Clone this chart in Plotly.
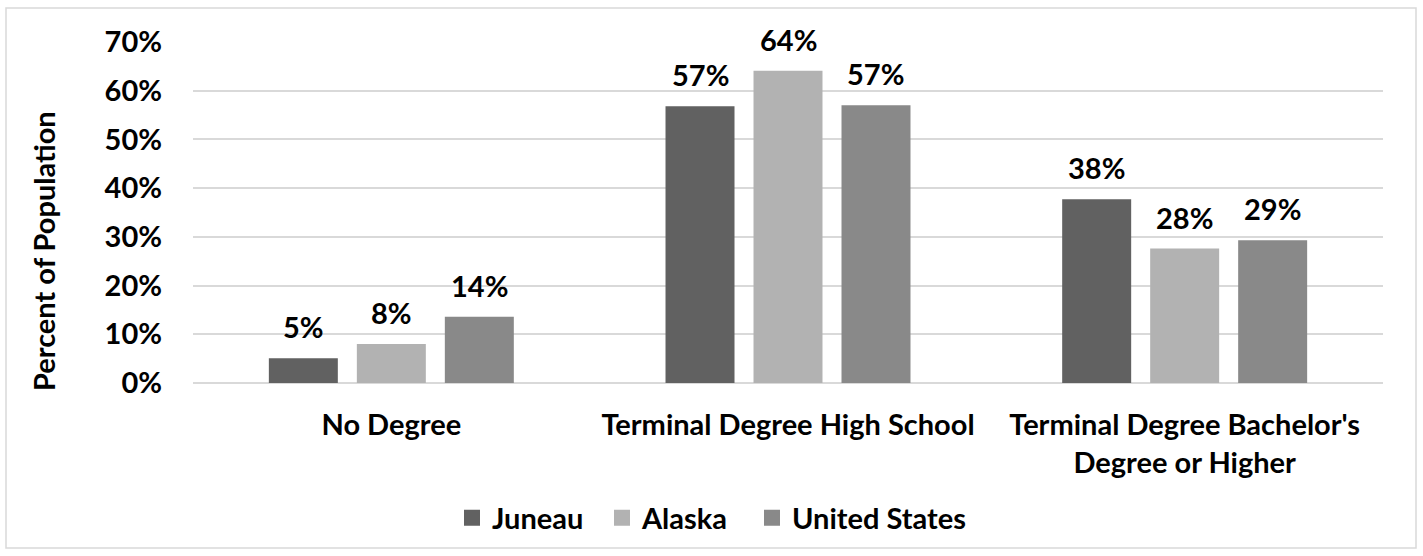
import plotly.graph_objects as go

categories = ["No Degree", "Terminal Degree High School", "Terminal Degree Bachelor's<br>Degree or Higher"]
series_names = ["Juneau", "Alaska", "United States"]
juneau = [5.1, 56.8, 37.7]
alaska = [8.0, 64.1, 27.6]
united_states = [13.6, 57.0, 29.3]
colors = ["#616161", "#b2b2b2", "#898989"]
y_ticks = [0, 10, 20, 30, 40, 50, 60, 70]
y_title = "Percent of Population"

FONT = "Lato, 'Open Sans', sans-serif"
FS = 29

W, H = 1423, 556
L, R, T, B = 193, 40, 42, 173
pw, ph = W - L - R, H - T - B

def px_to_paper(x, y):
    return (x - L) / pw, (H - B - y) / ph

# grouping geometry (fractions of the category slot)
BARGAP = 0.3345
GROUPGAP = 0.216
slot_px = pw / len(categories)
pitch_px = slot_px * (1 - BARGAP) / len(series_names)

fig = go.Figure()
annotations = []
for i, (name, vals, col) in enumerate(zip(series_names, [juneau, alaska, united_states], colors)):
    fig.add_trace(go.Bar(
        name=name, x=categories, y=vals,
        marker=dict(color=col, line=dict(width=0)),
        showlegend=False,
    ))
    # legend proxy with bigger square swatch
    legend_kw = dict(legendwidth=105) if i < len(series_names) - 1 else {}
    fig.add_trace(go.Scatter(
        name=name, x=[None], y=[None], mode="markers",
        marker=dict(symbol="square", size=17, color=col),
        showlegend=True, **legend_kw,
    ))
    offset = (i - (len(series_names) - 1) / 2) * pitch_px
    for c, v in zip(categories, vals):
        annotations.append(dict(
            x=c, y=v, xref="x", yref="y", text=f"{v:.0f}%", showarrow=False,
            xshift=offset, yshift=12, yanchor="bottom",
            font=dict(family=FONT, size=FS, color="#000000", weight="bold"),
        ))

tx, ty = px_to_paper(43, 251)
annotations.append(dict(
    x=tx, y=ty, xref="paper", yref="paper", text=y_title, textangle=-90,
    showarrow=False, xanchor="center", yanchor="middle",
    font=dict(family=FONT, size=FS, color="#000000", weight="bold"),
))

x0, y0 = px_to_paper(6, 8)
x1, y1 = px_to_paper(1416, 548)
lx, ly = px_to_paper(452, 518)

fig.update_layout(
    width=W, height=H,
    margin=dict(l=L, r=R, t=T, b=B, autoexpand=False),
    paper_bgcolor="white", plot_bgcolor="white",
    font=dict(family=FONT, size=FS, color="#000000", weight="bold"),
    barmode="group", bargap=BARGAP, bargroupgap=GROUPGAP,
    showlegend=True,
    legend=dict(orientation="h", x=lx, xanchor="left", y=ly, yanchor="middle",
                font=dict(family=FONT, size=FS, color="#000000", weight="bold"),
                traceorder="normal", itemwidth=30,
                bgcolor="rgba(0,0,0,0)"),
    xaxis=dict(showgrid=False, showline=False, ticks="", ticklabelstandoff=22,
               tickfont=dict(family=FONT, size=FS, weight="bold")),
    yaxis=dict(range=[0, 70], tickvals=y_ticks, ticktext=[f"{t}%" for t in y_ticks],
               showgrid=True, gridcolor="#d9d9d9", gridwidth=1.5,
               zeroline=True, zerolinecolor="#d9d9d9", zerolinewidth=1.5,
               showline=False, ticks="", ticklabelstandoff=30,
               tickfont=dict(family=FONT, size=FS, weight="bold")),
    annotations=annotations,
    shapes=[dict(type="rect", xref="paper", yref="paper", x0=x0, y0=y0, x1=x1, y1=y1,
                 line=dict(color="#d9d9d9", width=1.5), fillcolor="rgba(0,0,0,0)", layer="below")],
)

fig.write_html("out.html", config={"displayModeBar": False},
               post_script="document.body.style.margin='0';")
